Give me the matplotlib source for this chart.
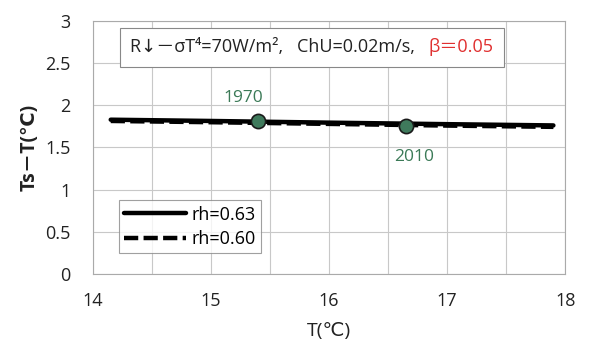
import matplotlib
matplotlib.use("Agg")
import matplotlib.pyplot as plt

plt.rcParams['font.family'] = ['Open Sans', 'DejaVu Sans', 'Noto Sans CJK JP']

T = [14.15, 15.0, 16.0, 17.0, 17.9]
rh063 = [1.830, 1.815, 1.795, 1.777, 1.762]
rh060 = [1.815, 1.800, 1.780, 1.760, 1.745]
pt_T = [15.40, 16.65]
pt_val = [1.81, 1.755]
pt_labels = ['1970', '2010']

fig = plt.figure(figsize=(6, 3.58), dpi=100)
ax = fig.add_axes([0.155, 0.235, 0.787, 0.706])

ax.plot(T, rh063, color='black', lw=3.2, solid_capstyle='round', label='rh=0.63', zorder=3)
ax.plot(T, rh060, color='black', lw=3.2, ls=(0, (3.2, 1.2)), label='rh=0.60', zorder=3)
ax.scatter(pt_T, pt_val, s=105, color='#3f7a5c', edgecolor='#1a1a1a', linewidth=1.2, zorder=5)

green = '#3b7a57'
ax.annotate(pt_labels[0], (pt_T[0], pt_val[0]), xytext=(-11, 16.5), textcoords='offset points',
            color=green, fontsize=12.5, ha='center', va='center')
ax.annotate(pt_labels[1], (pt_T[1], pt_val[1]), xytext=(6, -22), textcoords='offset points',
            color=green, fontsize=12.5, ha='center', va='center')

ax.set_xlim(14, 18)
ax.set_ylim(0, 3)
ax.set_xticks([14, 15, 16, 17, 18])
ax.set_yticks([0, 0.5, 1, 1.5, 2, 2.5, 3])
ax.set_yticklabels(['0', '0.5', '1', '1.5', '2', '2.5', '3'])
ax.set_xticks([14.5, 15.5, 16.5, 17.5], minor=True)
ax.grid(True, which='both', color='#c8c8c8', lw=0.8)
ax.set_axisbelow(True)
for s in ax.spines.values():
    s.set_color('#aaaaaa')
    s.set_linewidth(0.8)
ax.tick_params(which='both', length=0, labelsize=13, colors='#222222')
ax.tick_params(axis='x', pad=13)
ax.tick_params(axis='y', pad=16)

ax.set_xlabel('T(℃)', fontsize=14, labelpad=9, color='#222222')
ax.set_ylabel('Ts－T(℃)', fontsize=14, fontweight='bold', labelpad=4, color='#222222')

# annotation box
from matplotlib.offsetbox import TextArea, HPacker, AnchoredOffsetbox
t1 = TextArea('R↓－σT⁴=70W/m²,   ChU=0.02m/s,   ',
              textprops=dict(fontsize=13, color='#222222'))
t2 = TextArea('β＝0.05', textprops=dict(fontsize=13, color='#e03030'))
box = HPacker(children=[t1, t2], align='baseline', pad=0, sep=0)
anch = AnchoredOffsetbox(loc='center', child=box, pad=0.75, frameon=True,
                         bbox_to_anchor=(0.464, 0.897), bbox_transform=ax.transAxes, borderpad=0)
anch.patch.set_edgecolor('#888888')
anch.patch.set_linewidth(0.8)
ax.add_artist(anch)

leg = ax.legend(loc='lower left', bbox_to_anchor=(0.036, 0.045), fontsize=13, frameon=True,
                fancybox=False, edgecolor='#888888', handlelength=3.4, borderpad=0.3,
                labelspacing=0.35, handletextpad=0.3)
leg.get_frame().set_linewidth(0.8)

fig.savefig('out.png', dpi=100)
